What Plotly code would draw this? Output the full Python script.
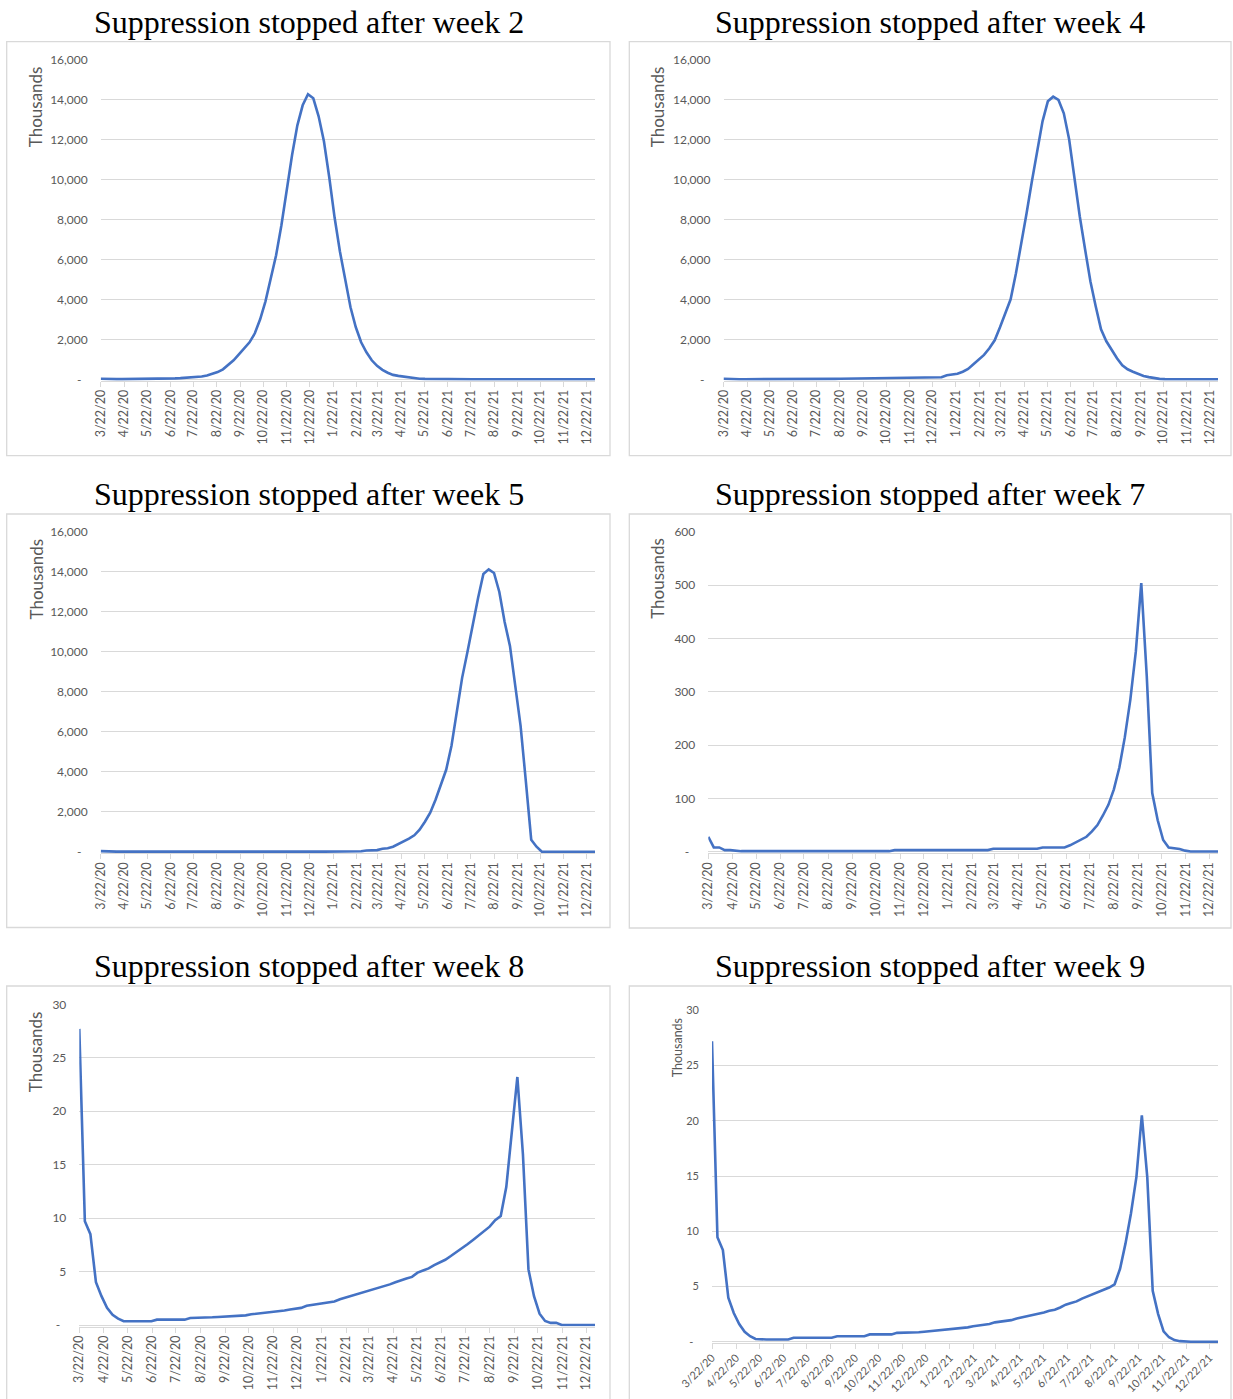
import plotly.graph_objects as go
import pandas as pd

W, H = 1233, 1399

# ---------------- data (thousands, weekly from 3/22/20) ----------------
weeks = pd.date_range("2020-03-22", periods=94, freq="7D")

week2 = [27, 10, 8, 9, 10, 11, 13, 15, 17, 20, 24, 28, 33, 40, 48, 60, 75, 95, 110, 140,
         190, 260, 360, 500, 720, 950, 1250, 1550, 1850, 2300, 3000, 3900, 5000, 6200, 7700, 9500, 11200, 12700, 13700, 14250,
         14050, 13150, 11900, 10100, 8100, 6400, 4900, 3600, 2600, 1850, 1350, 950, 670, 470, 330, 220, 170, 130, 80, 50,
         30, 20, 14, 10, 7, 5, 4, 3, 2, 2, 1, 1, 1, 1, 1, 1, 1, 1, 1, 1,
         1, 1, 1, 1, 1, 1, 1, 1, 1, 1, 1, 1, 1, 1]

week4 = [27, 10, 8, 4, 3, 2, 2, 2, 2, 3, 3, 4, 5, 6, 7, 8, 10, 12, 14, 16,
         19, 22, 26, 30, 35, 40, 45, 50, 55, 60, 65, 70, 70, 70, 70, 70, 75, 80, 85, 85,
         90, 100, 200, 250, 280, 380, 520, 750, 970, 1220, 1550, 1950, 2600, 3300, 4000, 5300, 6700, 8300, 9900, 11500,
         12900, 13900, 14130, 13970, 13300, 12000, 10000, 8150, 6500, 4900, 3650, 2500, 1900, 1450, 1050, 700, 500, 380, 260, 170,
         110, 50, 20, 10, 6, 4, 3, 2, 1, 1, 1, 1, 1, 1]

week5 = [27, 10, 8, 4, 3, 2, 2, 2, 2, 2, 2, 2, 2, 2, 2, 2, 2, 2, 2, 2,
         2, 2, 2, 2, 2, 2, 2, 2, 2, 2, 2, 2, 2, 2, 2, 2, 2, 2, 2, 2,
         3, 3, 3, 3, 3, 3, 3, 3, 5, 20, 60, 70, 80, 150, 170, 250, 380, 500, 650, 820,
         1100, 1500, 1950, 2600, 3400, 4100, 5300, 7000, 8700, 10000, 11400, 12700, 13900, 14130, 13950, 13000, 11500, 10300, 8300, 6300,
         3500, 600, 250, 0, 0, 0, 0, 0, 0, 0, 0, 0, 0, 0]

week7 = [28, 8, 8, 3, 3, 1.5, 1, 1, 1, 1, 1, 1, 1, 1, 1, 1, 1, 1, 1, 1,
         1, 1, 1, 1, 1, 1, 1, 1, 1, 1, 1, 1, 1, 1, 3, 3, 3, 3, 3, 3,
         3, 3, 3, 3, 3, 3, 3, 3, 3, 3, 3, 3, 5.5, 5.5, 5.5, 5.5, 5.5, 5.5, 5.5, 5.5,
         5.5, 8, 8, 8, 8, 8, 12, 17, 22, 28, 38, 50, 68, 88, 117, 158, 215, 285, 375, 504,
         330, 110, 59, 22, 8, 7, 5, 2, 0.5, 0.5, 0.5, 0.5, 0.5, 0.5]

week8 = [27.7, 9.7, 8.5, 4.0, 2.7, 1.6, 0.95, 0.6, 0.35, 0.35, 0.35, 0.35, 0.35, 0.35, 0.5, 0.5, 0.5, 0.5, 0.5, 0.5,
         0.65, 0.65, 0.65, 0.7, 0.72, 0.75, 0.78, 0.8, 0.8, 0.85, 0.9, 1.0, 1.05, 1.1, 1.15, 1.2, 1.3, 1.35, 1.45, 1.5,
         1.6, 1.8, 1.88, 1.95, 2.0, 2.1, 2.2, 2.4, 2.55, 2.7, 2.85, 3.0, 3.15, 3.3, 3.5, 3.65, 3.8, 4.0, 4.2, 4.35,
         4.5, 4.9, 5.1, 5.3, 5.6, 5.85, 6.1, 6.45, 6.8, 7.2, 7.55, 7.95, 8.35, 8.75, 9.2, 9.8, 10.2, 12.9, 17.9, 23.2,
         16.0, 5.2, 2.7, 1.06, 0.38, 0.2, 0.2, 0, 0, 0, 0, 0, 0, 0]

week9 = [27.2, 9.45, 8.3, 3.98, 2.6, 1.6, 0.9, 0.5, 0.25, 0.2, 0.2, 0.2, 0.2, 0.2, 0.2, 0.36, 0.36, 0.36, 0.36, 0.36,
         0.36, 0.36, 0.36, 0.5, 0.5, 0.5, 0.5, 0.5, 0.5, 0.66, 0.66, 0.66, 0.66, 0.66, 0.8, 0.8, 0.8, 0.8, 0.85, 0.9,
         0.95, 1.0, 1.05, 1.05, 1.15, 1.2, 1.25, 1.3, 1.4, 1.45, 1.55, 1.6, 1.75, 1.8, 1.85, 1.95, 2.1, 2.2, 2.3, 2.4,
         2.5, 2.65, 2.8, 2.9, 3.1, 3.35, 3.5, 3.65, 3.9, 4.1, 4.3, 4.45, 4.65, 4.9, 5.2, 6.6, 8.9, 11.6, 14.9, 20.5,
         14.9, 4.6, 2.5, 0.94, 0.4, 0.15, 0.05, 0, 0, 0, 0, 0, 0, 0]

titles = ["Suppression stopped after week 2", "Suppression stopped after week 4",
          "Suppression stopped after week 5", "Suppression stopped after week 7",
          "Suppression stopped after week 8", "Suppression stopped after week 9"]
series = [week2, week4, week5, week7, week8, week9]
y_max = [16000, 16000, 16000, 600, 30, 30]
y_step = [2000, 2000, 2000, 100, 5, 5]
axis_title = "Thousands"

tick_dates = pd.date_range("2020-03-22", "2021-12-22", freq=pd.DateOffset(months=1))
tick_text = [f"{d.month}/{d.day}/{d.year % 100}" for d in tick_dates]

# ---------------- layout geometry (pixels) ----------------
# box: (x0, y0, x1, y1); plot: (left, top, right, zero-line y)
geom = [
    dict(box=(6.7, 41.7, 610, 455.7), plot=(100.7, 59.3, 595, 379.3), tcx=309, tcy=21.5,
         at=(35.5, 106.7, 17), xfont=12.5, yfont=12, angle=-90),
    dict(box=(629.3, 41.7, 1231, 455.7), plot=(723.5, 59.3, 1218, 379.3), tcx=930, tcy=21.5,
         at=(657.5, 106.7, 17), xfont=12.5, yfont=12, angle=-90),
    dict(box=(6.7, 514, 610, 927.5), plot=(100.7, 532, 595, 851.7), tcx=309, tcy=494,
         at=(35.5, 579, 17), xfont=12.5, yfont=12, angle=-90),
    dict(box=(629.3, 514, 1231, 928), plot=(708.3, 532, 1218, 851.7), tcx=930, tcy=494,
         at=(657.5, 578.3, 17), xfont=12.5, yfont=12, angle=-90),
    dict(box=(6.7, 986, 610, 1420), plot=(79.3, 1004.3, 595, 1325), tcx=309, tcy=966,
         at=(35.5, 1051.7, 17), xfont=12.5, yfont=12, angle=-90),
    dict(box=(629.3, 986, 1231, 1420), plot=(712, 1010.3, 1218, 1341.7), tcx=930, tcy=966,
         at=(677, 1048.3, 12.5), xfont=11, yfont=11, angle=-45),
]

GRAY_TXT = "#595959"
GRID = "#D9D9D9"
BLUE = "#4472C4"
SANS = "Lato, 'Open Sans', sans-serif"
SERIF = "'Liberation Serif', 'Times New Roman', serif"

fig = go.Figure()
layout = dict(width=W, height=H, margin=dict(l=0, r=0, t=0, b=0, pad=0, autoexpand=False),
              paper_bgcolor="white", plot_bgcolor="white", showlegend=False)
annotations = []
shapes = []

for i, (g, ys, ymax, step, title) in enumerate(zip(geom, series, y_max, y_step, titles)):
    n = "" if i == 0 else str(i + 1)
    left, top, right, zero = g["plot"]
    pad = 1.5  # keep the line at y=0 fully visible
    ylow = -ymax * pad / (zero - top)
    xdom = [left / W, right / W]
    ydom = [1 - (zero + pad) / H, 1 - top / H]

    fig.add_trace(go.Scatter(x=weeks, y=ys, mode="lines",
                             line=dict(color=BLUE, width=2.6),
                             xaxis="x" + n, yaxis="y" + n, hoverinfo="skip"))

    yvals = list(range(0, ymax + 1, step))
    ytext = ["-\u00a0\u00a0" if v == 0 else f"{v:,}" for v in yvals]

    layout["xaxis" + n] = dict(
        domain=xdom, anchor="y" + n, type="date", automargin=False,
        range=[weeks[0], weeks[-1]],
        tickmode="array", tickvals=list(tick_dates), ticktext=tick_text,
        tickangle=g["angle"], ticks="outside", ticklen=5, tickcolor=GRID, tickwidth=1,
        showgrid=False, zeroline=False, showline=True, linecolor=GRID, linewidth=1,
        tickfont=dict(family=SANS, size=g["xfont"], color=GRAY_TXT),
        ticklabelstandoff=-2, fixedrange=True)
    layout["yaxis" + n] = dict(
        domain=ydom, anchor="x" + n, range=[ylow, ymax], automargin=False,
        tickmode="array", tickvals=yvals, ticktext=ytext,
        showgrid=True, gridcolor=GRID, gridwidth=1, zeroline=False, showline=False,
        ticks="", tickfont=dict(family=SANS, size=g["yfont"], color=GRAY_TXT),
        ticklabelstandoff=12, fixedrange=True)

    bx0, by0, bx1, by1 = g["box"]
    shapes.append(dict(type="rect", xref="paper", yref="paper",
                       x0=bx0 / W, x1=bx1 / W, y0=1 - by0 / H, y1=1 - by1 / H,
                       line=dict(color=GRID, width=1.3), fillcolor="rgba(0,0,0,0)", layer="below"))
    annotations.append(dict(text=title, x=g["tcx"] / W, y=1 - g["tcy"] / H,
                            xref="paper", yref="paper", xanchor="center", yanchor="middle",
                            showarrow=False, font=dict(family=SERIF, size=32, color="black")))
    ax, ay, asz = g["at"]
    annotations.append(dict(text=axis_title, x=ax / W, y=1 - ay / H, xref="paper", yref="paper",
                            xanchor="center", yanchor="middle", textangle=-90, showarrow=False,
                            font=dict(family=SANS, size=asz, color=GRAY_TXT)))

layout["annotations"] = annotations
layout["shapes"] = shapes
fig.update_layout(**layout)

fig.write_html("out.html", config={"displayModeBar": False},
               post_script="document.body.style.margin='0';document.body.style.overflow='hidden';")
